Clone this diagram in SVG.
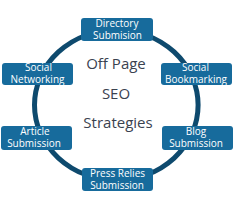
<svg xmlns="http://www.w3.org/2000/svg" width="234" height="216" viewBox="0 0 234 216">
<style>
.box{fill:#176b9c;}
.lbl{font-family:"Open Sans","Noto Sans",sans-serif;font-size:10px;fill:#ffffff;text-anchor:middle;}
.title{font-family:"Open Sans","Noto Sans",sans-serif;font-size:15px;fill:#3a4250;text-anchor:middle;}
.ring{fill:none;stroke:#0e4a6e;stroke-width:5;}
</style>
<rect width="234" height="216" fill="#ffffff"/>
<g id="connectors">
<ellipse class="ring" cx="116.3" cy="105" rx="81.8" ry="75"/>
</g>
<g id="title">
<text class="title" x="116" y="69">Off Page</text>
<text class="title" x="116" y="99">SEO</text>
<text class="title" x="118" y="128">Strategies</text>
</g>
<g id="directory">
<rect class="box" x="81" y="18" width="72" height="23" rx="3"/>
<text class="lbl" x="117" y="27">Directory</text>
<text class="lbl" x="117.5" y="38.5">Submision</text>
</g>
<g id="social-networking">
<rect class="box" x="2" y="63" width="71" height="22" rx="3"/>
<text class="lbl" x="38.5" y="71">Social</text>
<text class="lbl" x="37.5" y="82.5">Networking</text>
</g>
<g id="social-bookmarking">
<rect class="box" x="161" y="63" width="71" height="22" rx="3"/>
<text class="lbl" x="195.5" y="71">Social</text>
<text class="lbl" x="196" y="82.5">Bookmarking</text>
</g>
<g id="article-submission">
<rect class="box" x="1" y="126" width="71" height="24" rx="3"/>
<text class="lbl" x="35" y="135">Article</text>
<text class="lbl" x="34" y="147">Submission</text>
</g>
<g id="blog-submission">
<rect class="box" x="162" y="126" width="71" height="24" rx="3"/>
<text class="lbl" x="196" y="135">Blog</text>
<text class="lbl" x="196" y="147">Submission</text>
</g>
<g id="press-relies-submission">
<rect class="box" x="82" y="168" width="71" height="23" rx="3"/>
<text class="lbl" x="117.5" y="176.5">Press Relies</text>
<text class="lbl" x="117" y="189">Submission</text>
</g>
</svg>
